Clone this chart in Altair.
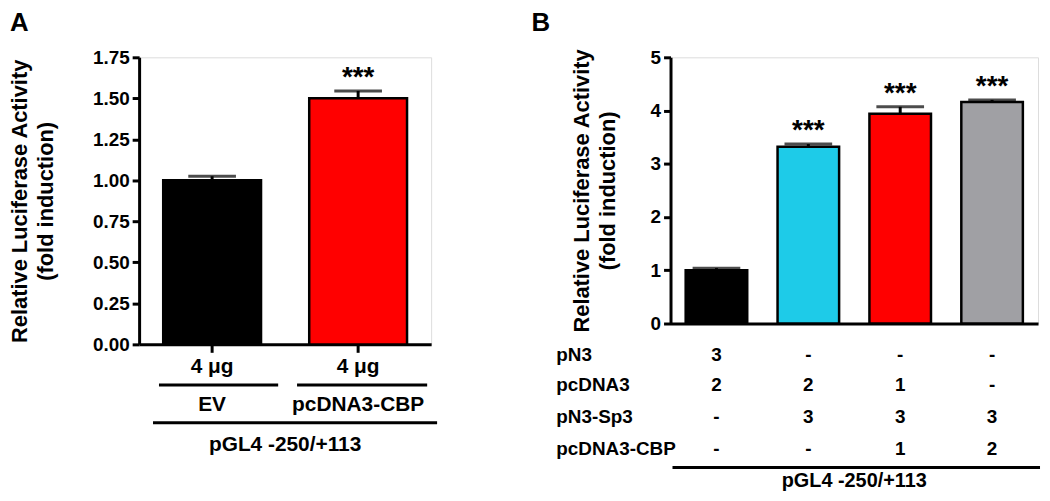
import altair as alt
import pandas as pd

FONT = "Liberation Sans"

# ---------------- Panel A data ----------------
a_cats = ["EV", "pcDNA3-CBP"]
a_means = [1.00, 1.50]
a_errs = [0.025, 0.045]
a_colors = ["#000000", "#ff0000"]
a_dose = ["4 μg", "4 μg"]
a_stars = ["", "***"]
a_ticks = [0, 0.25, 0.5, 0.75, 1.0, 1.25, 1.5, 1.75]

# ---------------- Panel B data ----------------
b_cats = ["lane1", "lane2", "lane3", "lane4"]
b_means = [1.00, 3.32, 3.94, 4.16]
b_errs = [0.04, 0.05, 0.13, 0.04]
b_colors = ["#000000", "#1ecbe8", "#ff0000", "#a0a0a4"]
b_stars = ["", "***", "***", "***"]
b_ticks = [0, 1, 2, 3, 4, 5]
b_rows = ["pN3", "pcDNA3", "pN3-Sp3", "pcDNA3-CBP"]
b_row_vals = [
    ["3", "-", "-", "-"],
    ["2", "2", "1", "-"],
    ["-", "3", "3", "3"],
    ["-", "-", "1", "2"],
]
promoter = "pGL4 -250/+113"
y_title = ["Relative Luciferase Activity", "(fold induction)"]

# layout constants (pixels, relative to each plot area)
A_W, A_H = 294, 289
B_W, B_H = 370, 268
b_row_y = [300, 330, 362, 394]


def axis_y(values, fmt, pad):
    return alt.Axis(values=values, format=fmt, title=y_title, titlePadding=pad,
                    titleFont=FONT, titleFontSize=22, titleFontWeight="bold",
                    titleColor="black", titleLineHeight=26,
                    labelFont=FONT, labelFontSize=19, labelFontWeight="bold",
                    labelColor="black", labelPadding=3,
                    domainColor="black", domainWidth=3,
                    tickColor="black", tickWidth=3, tickSize=7, grid=False)


def panel(cats, means, errs, colors, stars, ticks, domain_max, fmt, xticks, title_pad, field):
    df = pd.DataFrame({field: cats, "mean": means, "err": errs, "star": stars})
    df["top"] = df["mean"] + df["err"]
    x = alt.X(f"{field}:N", sort=cats,
              scale=alt.Scale(paddingInner=0.33, paddingOuter=0.165),
              axis=alt.Axis(labels=False, ticks=xticks, tickSize=8, tickWidth=3,
                            tickColor="black", domainColor="black", domainWidth=3,
                            title=None, grid=False))
    ysc = alt.Scale(domain=[0, domain_max], nice=False, zero=True)
    ax = axis_y(ticks, fmt, title_pad)
    base = alt.Chart(df)
    bars = base.mark_bar(stroke="black", strokeWidth=2.5).encode(
        x=x, y=alt.Y("mean:Q", scale=ysc, axis=ax),
        color=alt.Color(f"{field}:N", scale=alt.Scale(domain=cats, range=colors), legend=None))
    err = base.mark_rule(color="black", strokeWidth=3).encode(
        x=x, y=alt.Y("mean:Q", scale=ysc, axis=ax), y2="top:Q")
    cap = base.mark_tick(color="black", thickness=3, size=48).encode(
        x=x, y=alt.Y("top:Q", scale=ysc, axis=ax))
    star = base.mark_text(font=FONT, fontSize=28, fontWeight="bold", baseline="middle",
                          dy=-13, color="black").encode(
        x=x, y=alt.Y("top:Q", scale=ysc, axis=ax), text="star:N")
    return x, [err, bars, cap, star]


txt = dict(font=FONT, fontWeight="bold", color="black", baseline="middle")
one = pd.DataFrame({"k": [0]})


def hline(x1, x2, y):
    return alt.Chart(one).mark_rule(color="black", strokeWidth=3).encode(
        x=alt.value(x1), x2=alt.value(x2), y=alt.value(y))


def label(text, x, y, size, align="center"):
    return alt.Chart(pd.DataFrame({"t": [text]})).mark_text(
        fontSize=size, align=align, **txt).encode(
        x=alt.value(x), y=alt.value(y), text="t:N")


# ---------------- Panel A ----------------
xA, layersA = panel(a_cats, a_means, a_errs, a_colors, a_stars, a_ticks, 1.75,
                    ".2f", True, 35, "vecA")
dfA2 = pd.DataFrame({"vecA": a_cats, "dose": a_dose})
doseA = alt.Chart(dfA2).mark_text(fontSize=21, **txt).encode(
    x=xA, y=alt.value(312), text="dose:N")
nameA = alt.Chart(dfA2).mark_text(fontSize=21, **txt).encode(
    x=xA, y=alt.value(350), text="vecA:N")

chartA = alt.layer(
    *layersA, doseA, nameA,
    hline(20, 140, 330), hline(159, 290, 330), hline(14, 300, 368),
    label(promoter, A_W / 2, 390, 21),
    label("A", -130, -34, 26, "left"),
).properties(width=A_W, height=A_H)

# ---------------- Panel B ----------------
xB, layersB = panel(b_cats, b_means, b_errs, b_colors, b_stars, b_ticks, 5,
                    "d", False, 31, "lane")
table_layers = []
for row, vals, yy in zip(b_rows, b_row_vals, b_row_y):
    d = pd.DataFrame({"lane": b_cats, "v": vals})
    table_layers.append(alt.Chart(d).mark_text(fontSize=19, **txt).encode(
        x=xB, y=alt.value(yy), text="v:N"))
    table_layers.append(label(row, -115, yy, 19, "left"))

chartB = alt.layer(
    *layersB, *table_layers,
    hline(2, B_W + 2, 413),
    label(promoter, B_W / 2, 427, 20),
    label("B", -140, -34, 26, "left"),
).properties(width=B_W, height=B_H)

chart = alt.hconcat(chartA, chartB, spacing=92).properties(
    padding={"left": 0, "top": 0, "right": 0, "bottom": 0}
).resolve_scale(color="independent").configure_view(stroke=None).configure(background="white")

chart.save("out.html", embed_options={"renderer": "svg", "actions": False})
